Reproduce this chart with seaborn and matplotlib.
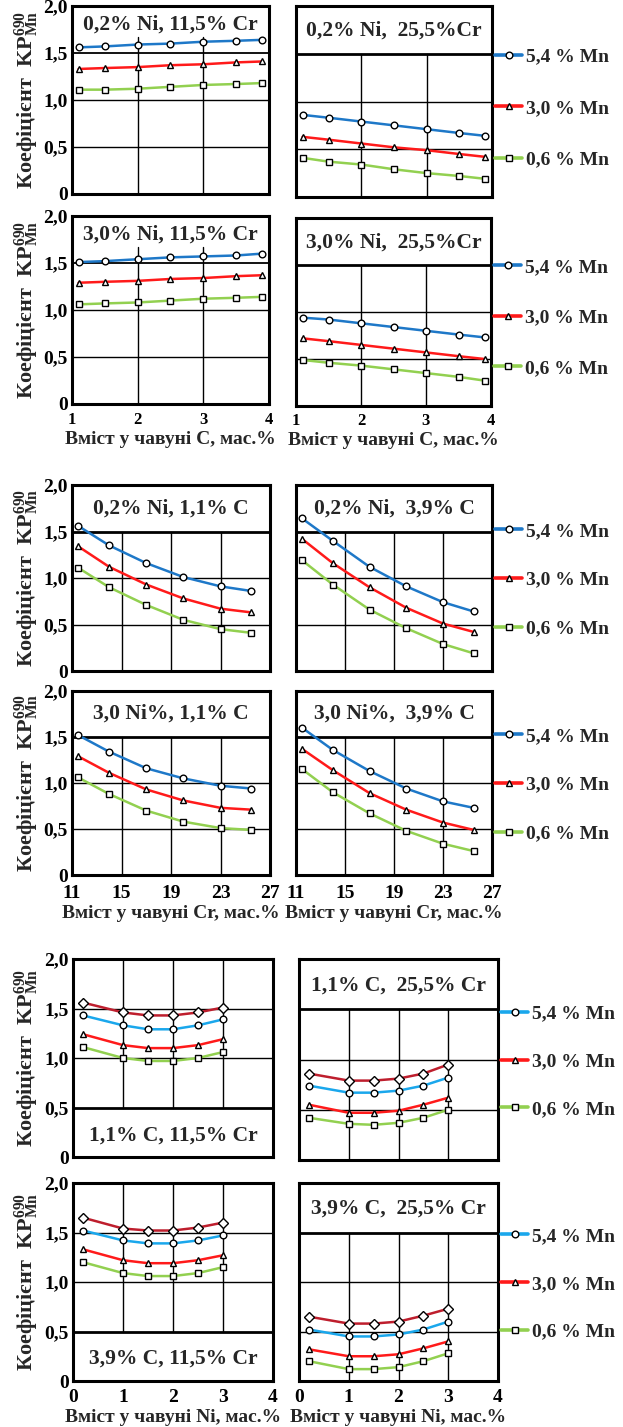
import numpy as np
import pandas as pd
import matplotlib
matplotlib.use("Agg")
import matplotlib.pyplot as plt
import seaborn as sns
from matplotlib.lines import Line2D

sns.set_theme(style="white")
plt.rcParams['font.family'] = ['Liberation Serif', 'DejaVu Serif']
plt.rcParams['font.weight'] = 'bold'
plt.rcParams['mathtext.fontset'] = 'custom'
plt.rcParams['mathtext.rm'] = 'Liberation Serif:bold'
plt.rcParams['mathtext.bf'] = 'Liberation Serif:bold'
plt.rcParams['mathtext.it'] = 'Liberation Serif:bold'

# ---------------- data ----------------
c_content = [1.1, 1.5, 2.0, 2.5, 3.0, 3.5, 3.9]
cr_content = [11.5, 14, 17, 20, 23, 25.5]
ni_content = [0.2, 1.0, 1.5, 2.0, 2.5, 3.0]

mn_labels = ["5,4 % Mn", "3,0 % Mn", "0,6 % Mn"]
y_ticks = [0, 0.5, 1.0, 1.5, 2.0]
y_ticklabels = ["0", "0,5", "1,0", "1,5", "2,0"]
c_ticks = [1, 2, 3, 4]
cr_ticks = [11, 15, 19, 23, 27]
ni_ticks = [0, 1, 2, 3, 4]

# group 1: vs C content
ni02_cr115_mn54 = [1.56, 1.57, 1.59, 1.60, 1.62, 1.63, 1.64]
ni02_cr115_mn30 = [1.33, 1.34, 1.35, 1.37, 1.38, 1.40, 1.41]
ni02_cr115_mn06 = [1.11, 1.11, 1.12, 1.14, 1.16, 1.17, 1.18]
ni02_cr255_mn54 = [0.86, 0.83, 0.79, 0.75, 0.71, 0.67, 0.64]
ni02_cr255_mn30 = [0.63, 0.60, 0.56, 0.52, 0.49, 0.45, 0.42]
ni02_cr255_mn06 = [0.41, 0.37, 0.34, 0.29, 0.25, 0.22, 0.19]
ni30_cr115_mn54 = [1.51, 1.52, 1.54, 1.56, 1.57, 1.58, 1.60]
ni30_cr115_mn30 = [1.29, 1.30, 1.31, 1.33, 1.34, 1.36, 1.37]
ni30_cr115_mn06 = [1.06, 1.07, 1.08, 1.10, 1.12, 1.13, 1.14]
ni30_cr255_mn54 = [0.94, 0.92, 0.88, 0.84, 0.80, 0.76, 0.73]
ni30_cr255_mn30 = [0.72, 0.69, 0.65, 0.61, 0.57, 0.53, 0.50]
ni30_cr255_mn06 = [0.49, 0.46, 0.43, 0.39, 0.35, 0.31, 0.27]

# group 2: vs Cr content
ni02_c11_mn54 = [1.56, 1.35, 1.16, 1.01, 0.91, 0.86]
ni02_c11_mn30 = [1.34, 1.12, 0.93, 0.78, 0.67, 0.63]
ni02_c11_mn06 = [1.11, 0.90, 0.71, 0.55, 0.45, 0.41]
ni02_c39_mn54 = [1.64, 1.40, 1.12, 0.91, 0.74, 0.64]
ni02_c39_mn30 = [1.42, 1.16, 0.90, 0.68, 0.51, 0.42]
ni02_c39_mn06 = [1.19, 0.93, 0.66, 0.46, 0.29, 0.19]
ni30_c11_mn54 = [1.52, 1.34, 1.16, 1.05, 0.97, 0.94]
ni30_c11_mn30 = [1.29, 1.11, 0.93, 0.81, 0.73, 0.71]
ni30_c11_mn06 = [1.06, 0.88, 0.70, 0.58, 0.51, 0.49]
ni30_c39_mn54 = [1.60, 1.36, 1.13, 0.94, 0.80, 0.73]
ni30_c39_mn30 = [1.37, 1.14, 0.89, 0.71, 0.57, 0.49]
ni30_c39_mn06 = [1.15, 0.90, 0.67, 0.48, 0.34, 0.26]

# group 3: vs Ni content (4 curves: unlabelled top curve + 5.4 / 3.0 / 0.6 % Mn)
c11_cr115_top = [1.56, 1.46, 1.43, 1.43, 1.46, 1.51]
c11_cr115_mn54 = [1.43, 1.33, 1.29, 1.29, 1.33, 1.39]
c11_cr115_mn30 = [1.24, 1.13, 1.10, 1.10, 1.13, 1.19]
c11_cr115_mn06 = [1.11, 1.00, 0.97, 0.97, 1.00, 1.06]
c11_cr255_top = [0.86, 0.79, 0.79, 0.81, 0.86, 0.95]
c11_cr255_mn54 = [0.74, 0.67, 0.67, 0.69, 0.74, 0.82]
c11_cr255_mn30 = [0.55, 0.47, 0.47, 0.49, 0.55, 0.62]
c11_cr255_mn06 = [0.42, 0.36, 0.35, 0.37, 0.42, 0.50]
c39_cr115_top = [1.65, 1.54, 1.52, 1.52, 1.55, 1.60]
c39_cr115_mn54 = [1.52, 1.42, 1.39, 1.39, 1.42, 1.47]
c39_cr115_mn30 = [1.33, 1.22, 1.19, 1.19, 1.22, 1.27]
c39_cr115_mn06 = [1.20, 1.09, 1.06, 1.06, 1.09, 1.15]
c39_cr255_top = [0.65, 0.58, 0.58, 0.60, 0.66, 0.73]
c39_cr255_mn54 = [0.52, 0.45, 0.45, 0.47, 0.52, 0.60]
c39_cr255_mn30 = [0.32, 0.25, 0.25, 0.27, 0.33, 0.40]
c39_cr255_mn06 = [0.20, 0.12, 0.12, 0.14, 0.20, 0.28]

# ---------------- styles ----------------
BLUE = "#1E78C8"
RED = "#FF1A1A"
GREEN = "#92D050"
DARKRED = "#BE1E2D"
CYAN = "#1AA7EC"
W, H = 623, 1427
YLABEL = "Коефіцієнт  KP$_{\\mathrm{Mn}}^{\\mathrm{690}}$"
FS = 14
TITLE_FS = 15.5

fig = plt.figure(figsize=(W / 100, H / 100), dpi=100)
fig.patch.set_facecolor("white")


def rect_px(l, t, r, b):
    return [l / W, 1 - b / H, (r - l) / W, (b - t) / H]


def panel(px, x, series, names, colors, markers, title, title_y, box,
          xlim, xticks, left, bottom, xlabel, legend_colors=None, xtick_fs=FS,
          leg_y=0.49, leg_sp=1.55, xpad=7):
    ax = fig.add_axes(rect_px(*px))
    ax.set_facecolor("white")
    inner = xticks[1:-1]
    if box == "top_open":
        hl = [(0.5, 1.0), (1.0, 1.0), (1.5, 1.3)]
        vmin, vmax = 0.0, 0.835
    elif box == "top":
        hl = [(0.5, 1.0), (1.0, 1.0), (1.5, 2.0)]
        vmin, vmax = 0.0, 0.75
    else:
        hl = [(1.0, 1.0), (1.5, 1.0), (0.5, 2.0)]
        vmin, vmax = 0.25, 1.0
    for yv, lw in hl:
        ax.axhline(yv, color="black", lw=lw, zorder=1)
    for xv in inner:
        ax.axvline(xv, ymin=vmin, ymax=vmax, color="black", lw=1.0, zorder=1)

    n = len(series)
    df = pd.DataFrame({
        "x": np.tile(x, n),
        "y": np.concatenate([np.asarray(s, float) for s in series]),
        "s": np.repeat(names, len(x)),
    })
    sns.lineplot(data=df, x="x", y="y", hue="s", style="s", hue_order=names,
                 style_order=names, palette=dict(zip(names, colors)),
                 markers=dict(zip(names, markers)), dashes=False, ax=ax,
                 legend=False, errorbar=None, markerfacecolor="white",
                 markeredgecolor="black", markersize=4.8, markeredgewidth=1.0,
                 linewidth=1.8, zorder=3)

    ax.set_xlim(*xlim)
    ax.set_ylim(0, 2.0)
    ax.set_xticks(xticks)
    ax.set_yticks(y_ticks)
    if bottom:
        ax.set_xticklabels([str(t) for t in xticks], fontsize=xtick_fs, fontweight="bold")
        ax.set_xlabel(xlabel, fontsize=FS, fontweight="bold", labelpad=2)
    else:
        ax.set_xticklabels([])
        ax.set_xlabel("")
    if left:
        ax.set_yticklabels(y_ticklabels, fontsize=FS, fontweight="bold")
        ax.set_ylabel(YLABEL, fontsize=16, fontweight="bold")
        ax.yaxis.set_label_coords((41 - px[0]) / (px[2] - px[0]), 0.5)
    else:
        ax.set_yticklabels([])
        ax.set_ylabel("")
    ax.tick_params(axis="y", length=0, pad=3, colors="black")
    ax.tick_params(axis="x", length=0, pad=xpad, colors="black")
    for sp in ax.spines.values():
        sp.set_visible(True)
        sp.set_color("black")
        sp.set_linewidth(2.2)
    ax.grid(False)
    ax.text((xlim[0] + xlim[1]) / 2, title_y, title, ha="center", va="center",
            fontsize=TITLE_FS, fontweight="bold", zorder=4)
    if legend_colors is not None:
        handles = [Line2D([], [], color=c, marker=m, mfc="white", mec="black",
                          ms=4.8, mew=1.0, lw=2.6)
                   for c, m in zip(legend_colors, ["o", "^", "s"])]
        ax.legend(handles, mn_labels, loc="center left", bbox_to_anchor=(1.0, leg_y),
                  frameon=False, prop=dict(size=FS, weight="bold"),
                  labelspacing=leg_sp, handlelength=1.4, handletextpad=0.2,
                  borderaxespad=0.15, borderpad=0)
    return ax


mn3 = ["5.4", "3.0", "0.6"]
col3 = [BLUE, RED, GREEN]
mk3 = ["o", "^", "s"]
mn4 = ["top", "5.4", "3.0", "0.6"]
col4 = [DARKRED, CYAN, RED, GREEN]
mk4 = ["D", "o", "^", "s"]

xl_c = "Вміст у чавуні C, мас.%"
xl_cr = "Вміст у чавуні Cr, мас.%"
xl_ni = "Вміст у чавуні Ni, мас.%"

# group 1
panel((72, 6, 269, 194), c_content, [ni02_cr115_mn54, ni02_cr115_mn30, ni02_cr115_mn06],
      mn3, col3, mk3, "0,2% Ni, 11,5% Cr", 1.80, "top_open", (1, 4), c_ticks,
      True, False, xl_c, xtick_fs=12)
panel((296, 6, 492, 197), c_content, [ni02_cr255_mn54, ni02_cr255_mn30, ni02_cr255_mn06],
      mn3, col3, mk3, "0,2% Ni,  25,5%Cr", 1.74, "top", (1, 4), c_ticks,
      False, False, xl_c, legend_colors=col3, xtick_fs=12, leg_y=0.465, leg_sp=1.75)
panel((72, 216, 269, 404), c_content, [ni30_cr115_mn54, ni30_cr115_mn30, ni30_cr115_mn06],
      mn3, col3, mk3, "3,0% Ni, 11,5% Cr", 1.80, "top_open", (1, 4), c_ticks,
      True, True, xl_c, xtick_fs=12, xpad=6)
panel((296, 218, 491, 406), c_content, [ni30_cr255_mn54, ni30_cr255_mn30, ni30_cr255_mn06],
      mn3, col3, mk3, "3,0% Ni,  25,5%Cr", 1.74, "top", (1, 4), c_ticks,
      False, True, xl_c, legend_colors=col3, xtick_fs=12, leg_y=0.47, leg_sp=1.7, xpad=5)

# group 2
panel((72, 485, 270, 671), cr_content, [ni02_c11_mn54, ni02_c11_mn30, ni02_c11_mn06],
      mn3, col3, mk3, "0,2% Ni, 1,1% C", 1.75, "top", (11, 27), cr_ticks,
      True, False, xl_cr)
panel((296, 485, 492, 671), cr_content, [ni02_c39_mn54, ni02_c39_mn30, ni02_c39_mn06],
      mn3, col3, mk3, "0,2% Ni,  3,9% C", 1.75, "top", (11, 27), cr_ticks,
      False, False, xl_cr, legend_colors=col3, leg_y=0.49, leg_sp=1.6)
panel((72, 691, 270, 875), cr_content, [ni30_c11_mn54, ni30_c11_mn30, ni30_c11_mn06],
      mn3, col3, mk3, "3,0 Ni%, 1,1% C", 1.75, "top", (11, 27), cr_ticks,
      True, True, xl_cr)
panel((296, 691, 492, 875), cr_content, [ni30_c39_mn54, ni30_c39_mn30, ni30_c39_mn06],
      mn3, col3, mk3, "3,0 Ni%,  3,9% C", 1.75, "top", (11, 27), cr_ticks,
      False, True, xl_cr, legend_colors=col3, leg_y=0.49, leg_sp=1.6)

# group 3
panel((73, 959, 273, 1157), ni_content,
      [c11_cr115_top, c11_cr115_mn54, c11_cr115_mn30, c11_cr115_mn06],
      mn4, col4, mk4, "1,1% C, 11,5% Cr", 0.22, "bottom", (0, 4), ni_ticks,
      True, False, xl_ni)
panel((299, 959, 498, 1160), ni_content,
      [c11_cr255_top, c11_cr255_mn54, c11_cr255_mn30, c11_cr255_mn06],
      mn4, col4, mk4, "1,1% C,  25,5% Cr", 1.74, "top", (0, 4), ni_ticks,
      False, False, xl_ni, legend_colors=[CYAN, RED, GREEN])
panel((73, 1183, 273, 1381), ni_content,
      [c39_cr115_top, c39_cr115_mn54, c39_cr115_mn30, c39_cr115_mn06],
      mn4, col4, mk4, "3,9% C, 11,5% Cr", 0.23, "bottom", (0, 4), ni_ticks,
      True, True, xl_ni, xpad=6)
panel((299, 1183, 498, 1381), ni_content,
      [c39_cr255_top, c39_cr255_mn54, c39_cr255_mn30, c39_cr255_mn06],
      mn4, col4, mk4, "3,9% C,  25,5% Cr", 1.74, "top", (0, 4), ni_ticks,
      False, True, xl_ni, legend_colors=[CYAN, RED, GREEN], xpad=6)

fig.savefig("out.png", dpi=100, facecolor="white")
